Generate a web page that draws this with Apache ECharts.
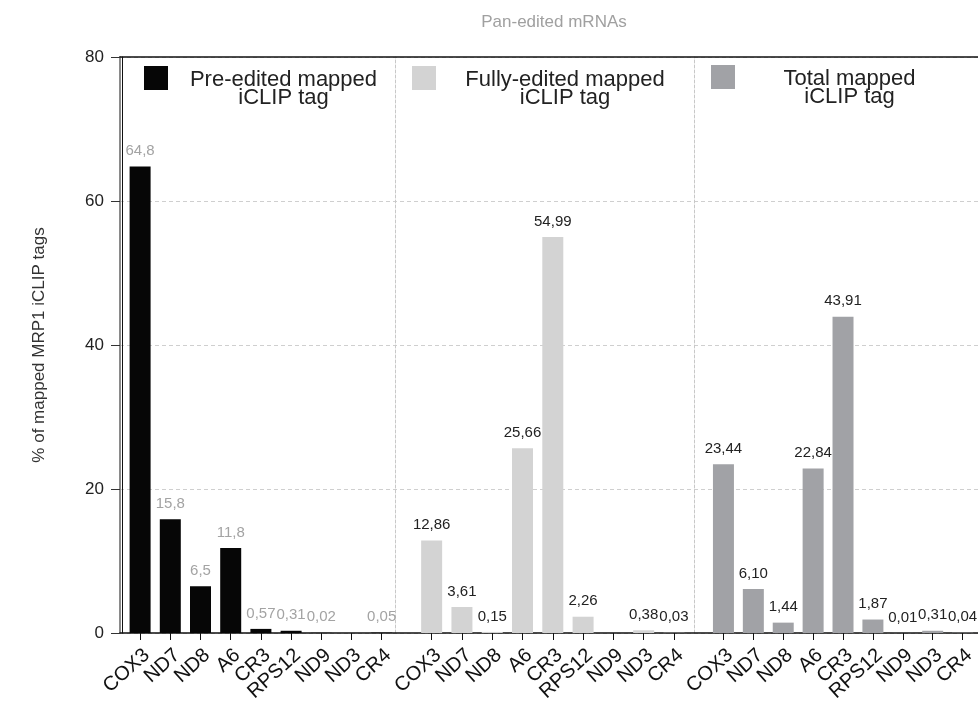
<!DOCTYPE html>
<html><head><meta charset="utf-8">
<script src="https://cdn.jsdelivr.net/npm/echarts@6/dist/echarts.min.js"></script>
<style>html,body{margin:0;padding:0;background:#fff}#c{width:978px;height:713px}</style>
</head><body><div id="c"></div>
<script>
const categories = ['COX3','ND7','ND8','A6','CR3','RPS12','ND9','ND3','CR4'];
const preValues   = [64.8, 15.8, 6.5, 11.8, 0.57, 0.31, 0.02, null, 0.05];
const preLabels   = ['64,8','15,8','6,5','11,8','0,57','0,31','0,02','','0,05'];
const fullValues  = [12.86, 3.61, 0.15, 25.66, 54.99, 2.26, null, 0.38, 0.03];
const fullLabels  = ['12,86','3,61','0,15','25,66','54,99','2,26','','0,38','0,03'];
const totalValues = [23.44, 6.10, 1.44, 22.84, 43.91, 1.87, 0.01, 0.31, 0.04];
const totalLabels = ['23,44','6,10','1,44','22,84','43,91','1,87','0,01','0,31','0,04'];
const seriesNames = ['Pre-edited mapped iCLIP tag','Fully-edited mapped iCLIP tag','Total mapped iCLIP tag'];
const legendLines = [['Pre-edited mapped','iCLIP tag'],['Fully-edited mapped','iCLIP tag'],['Total mapped','iCLIP tag']];
const yTicks = {min:0, max:80, interval:20};
const titleText = 'Pan-edited mRNAs';
const yAxisTitle = '% of mapped MRP1 iCLIP tags';

const FONT = 'Liberation Sans, Arial, sans-serif';
const colors = ['#060606','#d3d3d3','#a1a2a6'];
const labelColors = ['#a3a3a3','#222','#222'];
const valuesArr = [preValues, fullValues, totalValues];
const labelsArr = [preLabels, fullLabels, totalLabels];

const panelGrids = [
  {left:125, width:271.8, top:57, bottom:80},
  {left:416.5, width:272.6, top:57, bottom:80},
  {left:708.5, width:272.6, top:57, bottom:80}
];
const dividerOffsets = [3, 21.5, 14.5];
const dividerStyles = [
  {color:'#111', width:1, type:'solid'},
  {color:'#c8c8c8', width:1, type:[3,2]},
  {color:'#c8c8c8', width:1, type:[3,2]}
];
const legendPos = [{left:144, top:66, w:221},{left:412, top:66, w:248},{left:711, top:65, w:219}];

const grids = [{left:120, right:0, top:57, bottom:80}].concat(panelGrids);
const xAxes = [
  {gridIndex:0, type:'value', min:0, max:1, position:'bottom',
   axisLine:{show:true, onZero:false, lineStyle:{color:'#111', width:1.5}},
   axisTick:{show:false}, axisLabel:{show:false}, splitLine:{show:false}},
  {gridIndex:0, type:'value', min:0, max:1, position:'top',
   axisLine:{show:true, onZero:false, lineStyle:{color:'#111', width:1.5}},
   axisTick:{show:false}, axisLabel:{show:false}, splitLine:{show:false}}
];
const yAxes = [
  {gridIndex:0, type:'value', min:yTicks.min, max:yTicks.max, interval:yTicks.interval,
   name:yAxisTitle, nameLocation:'middle', nameGap:72,
   nameTextStyle:{fontSize:17, color:'#333', fontFamily:FONT},
   axisLine:{show:true, lineStyle:{color:'#8a8a8a', width:2}},
   axisTick:{show:true, length:9, lineStyle:{color:'#333', width:1}},
   axisLabel:{fontSize:17, color:'#222', margin:16, fontFamily:FONT},
   splitLine:{show:true, lineStyle:{color:'#cfcfcf', type:[4,3], width:1}}}
];
const series = [];
const legends = [];
for (let i=0;i<3;i++){
  xAxes.push({gridIndex:i+1, type:'category', data:categories, position:'bottom',
    axisLine:{show:false}, axisTick:{show:true, alignWithLabel:true, length:7, lineStyle:{color:'#111'}},
    axisLabel:{interval:0, rotate:42, fontSize:20, color:'#111', margin:12, verticalAlign:'top', fontFamily:FONT},
    splitLine:{show:false}});
  yAxes.push({gridIndex:i+1, type:'value', min:yTicks.min, max:yTicks.max, interval:yTicks.interval,
    position:'left', offset:dividerOffsets[i],
    axisLine:{show:true, lineStyle:dividerStyles[i]}, axisTick:{show:false},
    axisLabel:{show:false}, splitLine:{show:false}});
  const labels = labelsArr[i];
  series.push({name:seriesNames[i], type:'bar', xAxisIndex:i+2, yAxisIndex:i+1,
    data:valuesArr[i], barWidth:21, itemStyle:{color:colors[i]},
    label:{show:true, position:'top', distance:8, fontSize:15, color:labelColors[i], fontFamily:FONT,
      formatter:p=>labels[p.dataIndex]}});
  const lp = legendPos[i];
  const lines = legendLines[i];
  legends.push({data:[seriesNames[i]], left:lp.left, top:lp.top, icon:'rect', itemWidth:24, itemHeight:24,
    selectedMode:false, padding:0,
    formatter:()=>'{t|'+lines[0]+'}\n{t|'+lines[1]+'}',
    textStyle:{fontFamily:FONT, fontSize:22, color:'#222', padding:[22,0,0,0],
      rich:{t:{width:lp.w, align:'center', fontSize:22, lineHeight:18, color:'#222', fontFamily:FONT}}}});
}

const chart = echarts.init(document.getElementById('c'), null, {renderer:'canvas'});
chart.setOption({
  animation:false,
  backgroundColor:'#fff',
  title:{text:titleText, left:549, top:9, textAlign:'center',
    textStyle:{fontSize:17, fontWeight:'normal', color:'#a0a0a0', fontFamily:FONT}},
  legend:legends,
  grid:grids,
  xAxis:xAxes,
  yAxis:yAxes,
  series:series
});
</script></body></html>
